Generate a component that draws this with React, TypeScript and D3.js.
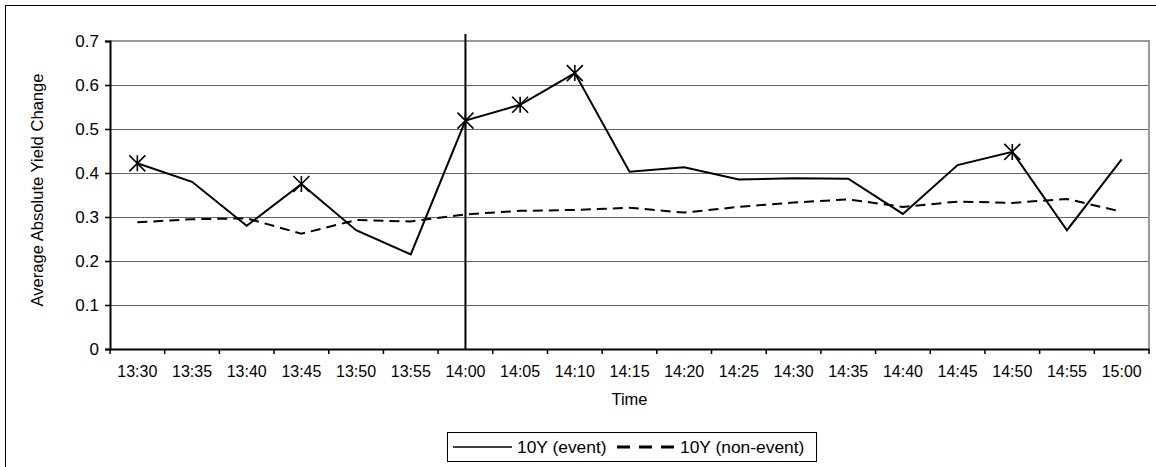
import { useEffect, useRef } from 'react'

import * as d3 from 'd3'

// Categorias do eixo X (horário)
const times = [
  '13:30', '13:35', '13:40', '13:45', '13:50', '13:55', '14:00', '14:05', '14:10', '14:15',
  '14:20', '14:25', '14:30', '14:35', '14:40', '14:45', '14:50', '14:55', '15:00',
]

// Série com evento
const eventValues = [
  0.422, 0.38, 0.28, 0.375, 0.27, 0.215, 0.519, 0.555, 0.627, 0.403,
  0.413, 0.385, 0.388, 0.387, 0.307, 0.418, 0.448, 0.27, 0.431,
]

// Série sem evento
const nonEventValues = [
  0.288, 0.295, 0.297, 0.262, 0.293, 0.29, 0.306, 0.314, 0.316, 0.321,
  0.31, 0.323, 0.333, 0.34, 0.323, 0.335, 0.332, 0.341, 0.312,
]

// Pontos marcados com asterisco
const markedTimes = ['13:30', '13:45', '14:00', '14:05', '14:10', '14:50']

const yTicks = [0, 0.1, 0.2, 0.3, 0.4, 0.5, 0.6, 0.7]

const eventTime = '14:00'

const FONT = '"Liberation Sans", Arial, sans-serif'

const App = () => {
  const ref = useRef<SVGSVGElement>(null)

  useEffect(() => {
    const svg = d3.select(ref.current)
    svg.selectAll('*').remove()

    const width = 1156
    const height = 467
    const plot = { left: 110, right: 1149, top: 41, bottom: 349 }

    // Moldura externa
    svg
      .append('rect')
      .attr('x', 5.5)
      .attr('y', 5.5)
      .attr('width', width + 20)
      .attr('height', height + 20)
      .attr('fill', '#fff')
      .attr('stroke', '#000')
      .attr('stroke-width', 1)

    const x = d3.scaleBand<string>().domain(times).range([plot.left, plot.right])
    const y = d3.scaleLinear().domain([0, 0.7]).range([plot.bottom, plot.top])
    const cx = (t: string) => (x(t) ?? 0) + x.bandwidth() / 2

    // Linhas de grade
    svg
      .append('g')
      .selectAll('line')
      .data(yTicks.filter((d) => d > 0 && d < 0.7))
      .join('line')
      .attr('x1', plot.left)
      .attr('x2', plot.right)
      .attr('y1', (d) => Math.round(y(d)) + 0.5)
      .attr('y2', (d) => Math.round(y(d)) + 0.5)
      .attr('stroke', '#666')
      .attr('stroke-width', 1)

    // Borda superior e direita (cinza)
    svg
      .append('path')
      .attr('d', `M${plot.left},${plot.top} H${plot.right} V${plot.bottom}`)
      .attr('fill', 'none')
      .attr('stroke', '#999')
      .attr('stroke-width', 2)

    // Eixo Y
    const yAxis = svg
      .append('g')
      .attr('transform', `translate(${plot.left},0)`)
      .call(
        d3
          .axisLeft(y)
          .tickValues(yTicks)
          .tickSize(5)
          .tickPadding(6)
          .tickFormat((d) => (d === 0 ? '0' : d3.format('.1f')(d as number)))
      )
    yAxis.select('.domain').attr('stroke-width', 2)
    yAxis.selectAll('line').attr('stroke-width', 1.5)
    yAxis.selectAll('text').attr('font-family', FONT).attr('font-size', 17).attr('fill', '#000')

    // Eixo X
    const xAxis = svg
      .append('g')
      .attr('transform', `translate(0,${plot.bottom})`)
      .call(d3.axisBottom(x).tickSize(0).tickPadding(17))
    xAxis.select('.domain').attr('stroke-width', 2)
    xAxis.selectAll('text').attr('font-family', FONT).attr('font-size', 16).attr('fill', '#000')

    // Marcas entre categorias
    svg
      .append('g')
      .selectAll('line')
      .data(d3.range(times.length + 1))
      .join('line')
      .attr('x1', (i) => plot.left + i * x.step())
      .attr('x2', (i) => plot.left + i * x.step())
      .attr('y1', plot.bottom)
      .attr('y2', plot.bottom + 5)
      .attr('stroke', '#000')
      .attr('stroke-width', 1.5)

    // Títulos dos eixos
    svg
      .append('text')
      .attr('x', (plot.left + plot.right) / 2)
      .attr('y', 405)
      .attr('text-anchor', 'middle')
      .attr('font-family', FONT)
      .attr('font-size', 16.5)
      .text('Time')

    svg
      .append('text')
      .attr('transform', `translate(43,190) rotate(-90)`)
      .attr('text-anchor', 'middle')
      .attr('font-family', FONT)
      .attr('font-size', 16.6)
      .text('Average Absolute Yield Change')

    // Linha vertical do evento
    svg
      .append('line')
      .attr('x1', cx(eventTime))
      .attr('x2', cx(eventTime))
      .attr('y1', plot.top - 7)
      .attr('y2', plot.bottom + 1)
      .attr('stroke', '#000')
      .attr('stroke-width', 2)

    const line = d3
      .line<number>()
      .x((_, i) => cx(times[i]))
      .y((d) => y(d))

    svg
      .append('path')
      .datum(nonEventValues)
      .attr('d', line)
      .attr('fill', 'none')
      .attr('stroke', '#000')
      .attr('stroke-width', 2)
      .attr('stroke-dasharray', '10,6')

    svg
      .append('path')
      .datum(eventValues)
      .attr('d', line)
      .attr('fill', 'none')
      .attr('stroke', '#000')
      .attr('stroke-width', 2)

    // Marcadores em asterisco
    const r = 8
    const star = `M0,${-r}V${r}M${-r},${-r}L${r},${r}M${r},${-r}L${-r},${r}`
    svg
      .append('g')
      .selectAll('path')
      .data(markedTimes)
      .join('path')
      .attr('transform', (t) => `translate(${cx(t)},${y(eventValues[times.indexOf(t)])})`)
      .attr('d', star)
      .attr('fill', 'none')
      .attr('stroke', '#000')
      .attr('stroke-width', 1.6)

    // Legenda
    const legend = svg.append('g').attr('transform', 'translate(447,432)')
    legend
      .append('rect')
      .attr('x', 0.5)
      .attr('y', 0.5)
      .attr('width', 369)
      .attr('height', 29)
      .attr('fill', '#fff')
      .attr('stroke', '#000')
    legend
      .append('line')
      .attr('x1', 6)
      .attr('x2', 65)
      .attr('y1', 15)
      .attr('y2', 15)
      .attr('stroke', '#000')
      .attr('stroke-width', 1.5)
    legend
      .append('text')
      .attr('x', 70)
      .attr('y', 21)
      .attr('font-family', FONT)
      .attr('font-size', 17.4)
      .text('10Y (event)')
    legend
      .append('line')
      .attr('x1', 170)
      .attr('x2', 229)
      .attr('y1', 15)
      .attr('y2', 15)
      .attr('stroke', '#000')
      .attr('stroke-width', 3)
      .attr('stroke-dasharray', '13,9')
    legend
      .append('text')
      .attr('x', 233)
      .attr('y', 21)
      .attr('font-family', FONT)
      .attr('font-size', 17.4)
      .text('10Y (non-event)')
  }, [])

  return (
    <svg
      ref={ref}
      width={1156}
      height={467}
      style={{ position: 'absolute', left: 0, top: 0, background: '#fff' }}
    />
  )
}

export default App
